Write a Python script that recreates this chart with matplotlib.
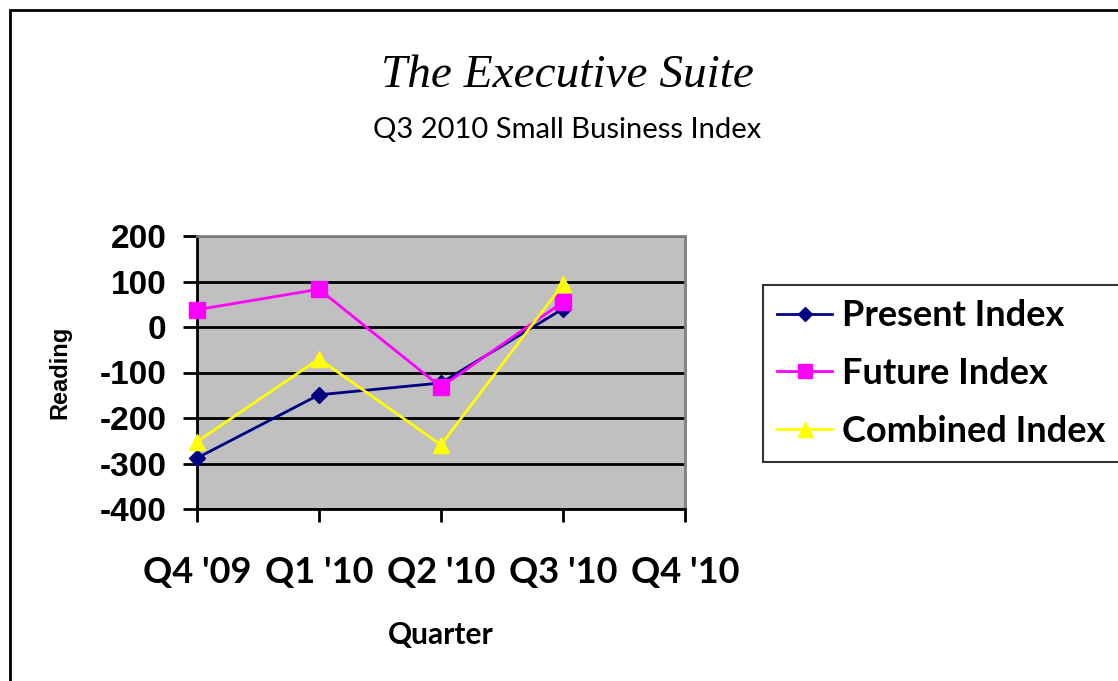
import matplotlib.pyplot as plt
from matplotlib.patches import Rectangle

plt.rcParams['axes.unicode_minus'] = False

# chart data
quarters = ["Q4 '09", "Q1 '10", "Q2 '10", "Q3 '10", "Q4 '10"]
present_index = [-288, -149, -123, 40]
future_index = [38, 83, -132, 55]
combined_index = [-252, -70, -259, 94]
y_ticks = [200, 100, 0, -100, -200, -300, -400]

fig = plt.figure(figsize=(11.18, 6.81), dpi=100)
fig.patch.set_facecolor('white')

# outer chart border (cut by right and bottom edges)
fig.add_artist(Rectangle((10 / 1118, -0.1), 1.2, 1 - 10 / 681 + 0.1,
                         transform=fig.transFigure, fill=False,
                         edgecolor='black', linewidth=2))

ax = fig.add_axes([197 / 1118, 1 - 509 / 681, (685 - 197) / 1118, (509 - 236) / 681])
ax.set_facecolor('#C0C0C0')

x = range(len(present_index))
ax.plot(x, present_index, color='#000080', marker='D', markersize=8, linewidth=2,
        label='Present Index', zorder=3, clip_on=False)
ax.plot(x, future_index, color='#FF00FF', marker='s', markersize=11, linewidth=2,
        label='Future Index', zorder=4, clip_on=False)
ax.plot(x, combined_index, color='#FFFF00', marker='^', markersize=12, linewidth=2,
        label='Combined Index', zorder=5, clip_on=False)

ax.set_xlim(0, 4)
ax.set_ylim(-400, 200)
ax.set_yticks(y_ticks)
ax.set_xticks(range(len(quarters)))
ax.set_xticklabels(quarters)
ax.yaxis.grid(True, color='black', linewidth=2)
ax.set_axisbelow(True)

for side in ['top', 'right']:
    ax.spines[side].set_color('#808080')
    ax.spines[side].set_linewidth(2)
for side in ['left', 'bottom']:
    ax.spines[side].set_color('black')
    ax.spines[side].set_linewidth(2)

ax.tick_params(axis='y', direction='out', length=10, width=2, pad=12,
               labelsize=24)
ax.tick_params(axis='x', direction='out', length=9, width=2, pad=25,
               labelsize=26)
for lab in ax.get_yticklabels():
    lab.set_fontweight('bold')
    lab.set_fontfamily('Liberation Sans')
for lab in ax.get_xticklabels():
    lab.set_fontweight('bold')
    lab.set_fontfamily('Lato')

ax.set_ylabel('Reading', fontsize=17, fontweight='bold', family='Liberation Sans',
              labelpad=20)
ax.set_xlabel('Quarter', fontsize=21.5, fontweight='bold', family='Lato', labelpad=23)

fig.text(567 / 1118, 1 - 76 / 681, 'The Executive Suite', ha='center', va='center',
         fontsize=34, style='italic', family='Liberation Serif')
fig.text(567 / 1118, 1 - 130 / 681, 'Q3 2010 Small Business Index', ha='center',
         va='center', fontsize=21, family='Lato')

leg = ax.legend(loc='upper left', bbox_to_anchor=(763 / 1118, 1 - 285 / 681),
                bbox_transform=fig.transFigure, frameon=True, fancybox=False,
                edgecolor='black', prop={'family': 'Lato', 'weight': 'bold', 'size': 26},
                handlelength=1.5, labelspacing=0.68, borderpad=0.4, handletextpad=0.3,
                borderaxespad=0, markerscale=0.9)
leg.get_frame().set_linewidth(1.5)

fig.savefig('out.png', dpi=100)
